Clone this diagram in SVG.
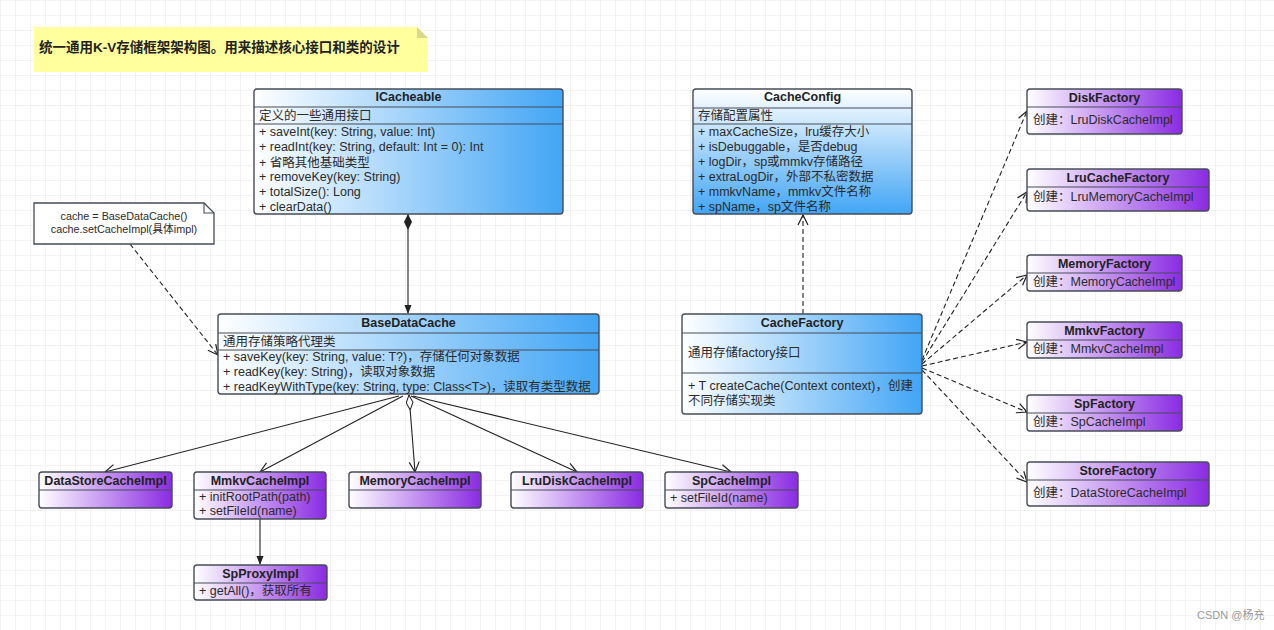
<svg xmlns="http://www.w3.org/2000/svg" width="1274" height="630" viewBox="0 0 1274 630">
<defs>
<pattern id="grid" width="15" height="15" patternUnits="userSpaceOnUse">
<path d="M15 0H0V15" fill="none" stroke="#e7e7e7" stroke-width="1"/>
</pattern>
<linearGradient id="blueH" x1="0" y1="0" x2="1" y2="0"><stop offset="0" stop-color="#ffffff"/><stop offset="1" stop-color="#42a5f5"/></linearGradient>
<linearGradient id="blueV" x1="0" y1="0" x2="0" y2="1"><stop offset="0" stop-color="#ffffff"/><stop offset="1" stop-color="#42a5f5"/></linearGradient>
<linearGradient id="purpleH" x1="0" y1="0" x2="1" y2="0"><stop offset="0" stop-color="#ffffff"/><stop offset="1" stop-color="#8a2be2"/></linearGradient>
<marker id="open" viewBox="0 0 12 12" refX="11" refY="6" markerWidth="12" markerHeight="12" markerUnits="userSpaceOnUse" orient="auto">
<path d="M1 1L11 6L1 11" fill="none" stroke="#222" stroke-width="1.2"/>
</marker>
<marker id="filled" viewBox="0 0 10 10" refX="9" refY="5" markerWidth="9" markerHeight="9" markerUnits="userSpaceOnUse" orient="auto">
<path d="M0 1L10 5L0 9Z" fill="#222"/>
</marker>
<marker id="dia" viewBox="0 0 16 8" refX="0" refY="4" markerWidth="16" markerHeight="8" markerUnits="userSpaceOnUse" orient="auto">
<path d="M0 4L8 0L16 4L8 8Z" fill="#222"/>
</marker>
<marker id="odia" viewBox="0 0 16 8" refX="0.5" refY="4" markerWidth="16" markerHeight="8" markerUnits="userSpaceOnUse" orient="auto">
<path d="M0.5 4L8 0.6L15.5 4L8 7.4Z" fill="#fff" stroke="#222" stroke-width="1"/>
</marker>
</defs>
<style>
text{font-family:"Liberation Sans","Noto Sans CJK SC",sans-serif;font-size:12.5px;fill:#2b2b2b}
.h{font-weight:bold;text-anchor:middle;fill:#222}
.c{text-anchor:middle;font-size:10.8px}
.box{stroke:#464c58;stroke-width:1.4}
.sep{stroke:#464c58;stroke-width:1.2}
.ln{fill:none;stroke:#222;stroke-width:1.1}
.dash{fill:none;stroke:#222;stroke-width:1.1;stroke-dasharray:5 3}
.title{font-weight:bold;font-size:13.5px;fill:#222}
.wm{font-size:11px;fill:#999}
</style>
<rect width="1274" height="630" fill="#fff"/>
<rect width="1274" height="630" fill="url(#grid)"/>

<g id="title-note">
<path d="M34 27H417L428 38V72H34Z" fill="#ffff9e" stroke="none"/>
<path d="M417 27V38H428Z" fill="#d9d98a"/>
<text class="title" x="39" y="52">统一通用K-V存储框架架构图。用来描述核心接口和类的设计</text>
</g>

<g id="connectors">
<line class="ln" x1="408" y1="214" x2="408" y2="313" marker-start="url(#dia)" marker-end="url(#filled)"/>
<line class="dash" x1="803" y1="314" x2="803" y2="215" marker-end="url(#open)"/>
<line class="dash" x1="130" y1="244" x2="218" y2="355" marker-end="url(#open)"/>
<line class="ln" x1="399" y1="396" x2="105" y2="472" marker-end="url(#open)"/>
<line class="ln" x1="403" y1="396" x2="260" y2="472" marker-end="url(#open)"/>
<line class="ln" x1="409" y1="395" x2="415" y2="472" marker-start="url(#odia)" marker-end="url(#open)"/>
<line class="ln" x1="411" y1="396" x2="577" y2="472" marker-end="url(#open)"/>
<line class="ln" x1="413" y1="396" x2="731" y2="472" marker-end="url(#open)"/>
<line class="ln" x1="260" y1="519" x2="260" y2="564" marker-end="url(#filled)"/>
<line class="dash" x1="922" y1="360" x2="1027" y2="111" marker-end="url(#open)"/>
<line class="dash" x1="922" y1="362" x2="1027" y2="192" marker-end="url(#open)"/>
<line class="dash" x1="922" y1="364" x2="1027" y2="275" marker-end="url(#open)"/>
<line class="dash" x1="922" y1="366" x2="1027" y2="342" marker-end="url(#open)"/>
<line class="dash" x1="922" y1="368" x2="1027" y2="412" marker-end="url(#open)"/>
<line class="dash" x1="922" y1="370" x2="1027" y2="482" marker-end="url(#open)"/>
</g>

<g id="ICacheable">
<rect class="box" x="254" y="89" width="309" height="125" rx="3" fill="url(#blueH)"/>
<line class="sep" x1="254" y1="107" x2="563" y2="107"/>
<line class="sep" x1="254" y1="124" x2="563" y2="124"/>
<text class="h" x="408.5" y="101">ICacheable</text>
<text x="259" y="120">定义的一些通用接口</text>
<text x="259" y="136">+ saveInt(key: String, value: Int)</text>
<text x="259" y="151">+ readInt(key: String, default: Int = 0): Int</text>
<text x="259" y="167">+ 省略其他基础类型</text>
<text x="259" y="181">+ removeKey(key: String)</text>
<text x="259" y="196">+ totalSize(): Long</text>
<text x="259" y="211">+ clearData()</text>
</g>

<g id="CacheConfig">
<rect class="box" x="693" y="89" width="219" height="125" rx="3" fill="url(#blueV)"/>
<line class="sep" x1="693" y1="108" x2="912" y2="108"/>
<line class="sep" x1="693" y1="124" x2="912" y2="124"/>
<text class="h" x="802.5" y="101">CacheConfig</text>
<text x="698" y="120">存储配置属性</text>
<text x="698" y="136">+ maxCacheSize，lru缓存大小</text>
<text x="698" y="151">+ isDebuggable，是否debug</text>
<text x="698" y="166">+ logDir，sp或mmkv存储路径</text>
<text x="698" y="181">+ extraLogDir，外部不私密数据</text>
<text x="698" y="196">+ mmkvName，mmkv文件名称</text>
<text x="698" y="211">+ spName，sp文件名称</text>
</g>

<g id="usage-note">
<path d="M34 203H204L214 213V244H34Z" fill="#fff" stroke="#464c58" stroke-width="1.3"/>
<path d="M204 203V213H214" fill="none" stroke="#464c58" stroke-width="1.1"/>
<text class="c" x="124" y="220">cache = BaseDataCache()</text>
<text class="c" x="124" y="233">cache.setCacheImpl(具体impl)</text>
</g>

<g id="BaseDataCache">
<rect class="box" x="218" y="314" width="381" height="80" rx="3" fill="url(#blueH)"/>
<line class="sep" x1="218" y1="333" x2="599" y2="333"/>
<line class="sep" x1="218" y1="350" x2="599" y2="350"/>
<text class="h" x="408.5" y="327">BaseDataCache</text>
<text x="223" y="346">通用存储策略代理类</text>
<text x="223" y="361">+ saveKey(key: String, value: T?)，存储任何对象数据</text>
<text x="223" y="376">+ readKey(key: String)，读取对象数据</text>
<text x="223" y="391">+ readKeyWithType(key: String, type: Class&lt;T&gt;)，读取有类型数据</text>
</g>

<g id="CacheFactory">
<rect class="box" x="682" y="314" width="240" height="100" rx="3" fill="url(#blueH)"/>
<line class="sep" x1="682" y1="333" x2="922" y2="333"/>
<line class="sep" x1="682" y1="373" x2="922" y2="373"/>
<text class="h" x="802" y="327">CacheFactory</text>
<text x="688" y="357">通用存储factory接口</text>
<text x="688" y="390">+ T createCache(Context context)，创建</text>
<text x="688" y="405">不同存储实现类</text>
</g>

<g id="DiskFactory">
<rect class="box" x="1027" y="89" width="155" height="45" rx="3" fill="url(#purpleH)"/>
<line class="sep" x1="1027" y1="107" x2="1182" y2="107"/>
<text class="h" x="1104.5" y="102">DiskFactory</text>
<text x="1033" y="124">创建：LruDiskCacheImpl</text>
</g>
<g id="LruCacheFactory">
<rect class="box" x="1027" y="169" width="182" height="42" rx="3" fill="url(#purpleH)"/>
<line class="sep" x1="1027" y1="187" x2="1209" y2="187"/>
<text class="h" x="1118" y="182">LruCacheFactory</text>
<text x="1033" y="201">创建：LruMemoryCacheImpl</text>
</g>
<g id="MemoryFactory">
<rect class="box" x="1027" y="255" width="155" height="36" rx="3" fill="url(#purpleH)"/>
<line class="sep" x1="1027" y1="273" x2="1182" y2="273"/>
<text class="h" x="1104.5" y="268">MemoryFactory</text>
<text x="1033" y="286">创建：MemoryCacheImpl</text>
</g>
<g id="MmkvFactory">
<rect class="box" x="1027" y="322" width="155" height="36" rx="3" fill="url(#purpleH)"/>
<line class="sep" x1="1027" y1="340" x2="1182" y2="340"/>
<text class="h" x="1104.5" y="335">MmkvFactory</text>
<text x="1033" y="353">创建：MmkvCacheImpl</text>
</g>
<g id="SpFactory">
<rect class="box" x="1027" y="395" width="155" height="36" rx="3" fill="url(#purpleH)"/>
<line class="sep" x1="1027" y1="413" x2="1182" y2="413"/>
<text class="h" x="1104.5" y="408">SpFactory</text>
<text x="1033" y="426">创建：SpCacheImpl</text>
</g>
<g id="StoreFactory">
<rect class="box" x="1027" y="462" width="182" height="44" rx="3" fill="url(#purpleH)"/>
<line class="sep" x1="1027" y1="480" x2="1209" y2="480"/>
<text class="h" x="1118" y="475">StoreFactory</text>
<text x="1033" y="497">创建：DataStoreCacheImpl</text>
</g>

<g id="DataStoreCacheImpl">
<rect class="box" x="39" y="472" width="133" height="36" rx="3" fill="url(#purpleH)"/>
<line class="sep" x1="39" y1="490" x2="172" y2="490"/>
<text class="h" x="105.5" y="485">DataStoreCacheImpl</text>
</g>
<g id="MmkvCacheImpl">
<rect class="box" x="194" y="472" width="132" height="47" rx="3" fill="url(#purpleH)"/>
<line class="sep" x1="194" y1="490" x2="326" y2="490"/>
<text class="h" x="260" y="485">MmkvCacheImpl</text>
<text x="199" y="501">+ initRootPath(path)</text>
<text x="199" y="515">+ setFileId(name)</text>
</g>
<g id="MemoryCacheImpl">
<rect class="box" x="349" y="472" width="132" height="36" rx="3" fill="url(#purpleH)"/>
<line class="sep" x1="349" y1="490" x2="481" y2="490"/>
<text class="h" x="415" y="485">MemoryCacheImpl</text>
</g>
<g id="LruDiskCacheImpl">
<rect class="box" x="511" y="472" width="132" height="36" rx="3" fill="url(#purpleH)"/>
<line class="sep" x1="511" y1="490" x2="643" y2="490"/>
<text class="h" x="577" y="485">LruDiskCacheImpl</text>
</g>
<g id="SpCacheImpl">
<rect class="box" x="665" y="472" width="133" height="36" rx="3" fill="url(#purpleH)"/>
<line class="sep" x1="665" y1="490" x2="798" y2="490"/>
<text class="h" x="731.5" y="485">SpCacheImpl</text>
<text x="670" y="502">+ setFileId(name)</text>
</g>
<g id="SpProxyImpl">
<rect class="box" x="194" y="565" width="133" height="35" rx="3" fill="url(#purpleH)"/>
<line class="sep" x1="194" y1="583" x2="327" y2="583"/>
<text class="h" x="260.5" y="578">SpProxyImpl</text>
<text x="199" y="595">+ getAll()，获取所有</text>
</g>

<text class="wm" x="1197" y="619">CSDN @杨充</text>
</svg>
